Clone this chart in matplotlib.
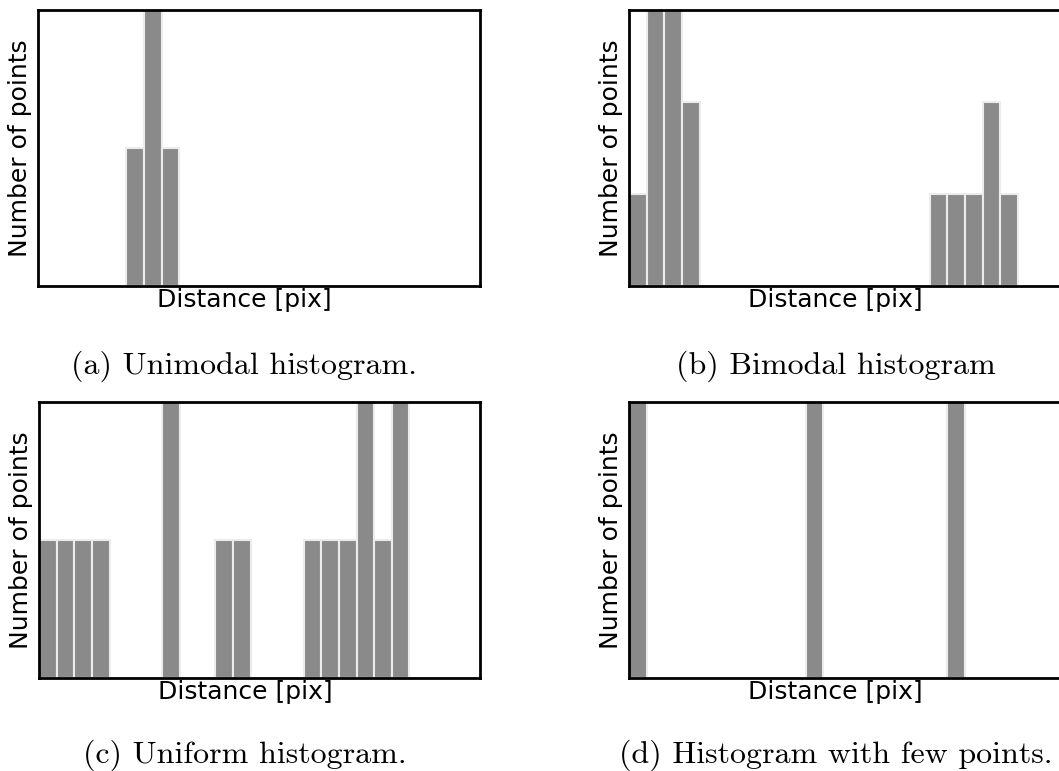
import matplotlib.pyplot as plt
import numpy as np

# histogram counts per bin (25 bins each)
unimodal = [0, 0, 0, 0, 0, 1, 2, 1, 0, 0, 0, 0, 0, 0, 0, 0, 0, 0, 0, 0, 0, 0, 0, 0, 0]
bimodal = [1, 3, 3, 2, 0, 0, 0, 0, 0, 0, 0, 0, 0, 0, 0, 0, 0, 1, 1, 1, 2, 1, 0, 0, 0]
uniform = [1, 1, 1, 1, 0, 0, 0, 2, 0, 0, 1, 1, 0, 0, 0, 1, 1, 1, 2, 1, 2, 0, 0, 0, 0]
few_points = [1, 0, 0, 0, 0, 0, 0, 0, 0, 0, 1, 0, 0, 0, 0, 0, 0, 0, 1, 0, 0, 0, 0, 0, 0]

captions = ["(a) Unimodal histogram.", "(b) Bimodal histogram",
            "(c) Uniform histogram.", "(d) Histogram with few points."]
xlabel = "Distance [pix]"
ylabel = "Number of points"

W, H = 1059, 771
fig = plt.figure(figsize=(W / 100, H / 100), dpi=100)

# axes boxes in pixels: left, top, width, height
boxes = [(38, 10, 442, 276), (629, 10, 442, 276),
         (39, 402, 441, 276), (629, 402, 442, 276)]
cap_y = [-0.29, -0.29, -0.28, -0.28]
data = [unimodal, bimodal, uniform, few_points]

for (l, t, w, h), counts, cap, cy in zip(boxes, data, captions, cap_y):
    ax = fig.add_axes([l / W, (H - t - h) / H, w / W, h / H])
    x = np.arange(len(counts))
    ax.bar(x, counts, width=1.0, align='edge', color='#8a8a8a',
           edgecolor='#ececec', linewidth=1.5)
    ax.set_xlim(0, len(counts))
    ax.set_ylim(0, max(counts))
    ax.set_xticks([])
    ax.set_yticks([])
    for s in ax.spines.values():
        s.set_linewidth(2)
        s.set_color('black')
    ax.set_xlabel(xlabel, fontsize=18, family='DejaVu Sans')
    ax.xaxis.set_label_coords(0.467, -0.008)
    ax.set_ylabel(ylabel, fontsize=18, family='DejaVu Sans', labelpad=4)
    ax.text(0.467, cy, cap, transform=ax.transAxes, ha='center', va='center',
            fontsize=23, family='cmr10')

fig.savefig('out.png', dpi=100)
